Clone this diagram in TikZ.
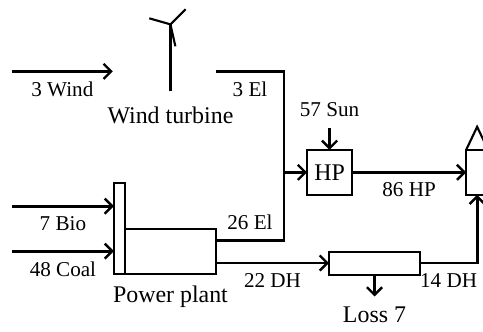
\documentclass[tikz,border=0pt]{standalone}
\usepackage{fontspec}
\setmainfont{Liberation Serif}
\usetikzlibrary{arrows.meta,positioning}
\tikzset{
  box/.style={draw=black, line width=1.5pt, outer sep=0pt, inner sep=0pt, align=center, font=\fontsize{18}{20}\selectfont},
  hpbox/.style={box, minimum width=1.19cm, minimum height=1.19cm},
  flow/.style={-{Straight Barb[length=2mm,width=4mm,line width=1.8pt]}, line width=2.2pt, draw=black},
  plainflow/.style={line width=2.2pt, draw=black, line join=miter},
  blade/.style={line width=1.6pt, draw=black},
  flowlabel/.style={inner sep=0pt, font=\fontsize{15.9}{18}\selectfont},
  biglabel/.style={inner sep=0pt, font=\fontsize{18}{20}\selectfont}
}
\begin{document}
\begin{tikzpicture}
        \useasboundingbox (0,0) rectangle (12.78,8.76);
        \clip (0,0) rectangle (12.78,8.76);
        \node[box, minimum width=2.41cm, minimum height=1.19cm] (plant) at (4.51,2.10) {};
        \node[box, anchor=south east, minimum width=0.29cm, minimum height=2.41cm] (tall) at (plant.south west) {};
        \node[biglabel, below=0.31cm of plant] (plantname) {Power plant};
        \coordinate[left=2.70cm of tall.west, yshift=0.595cm] (bioin);
        \coordinate[left=2.70cm of tall.west, yshift=-0.595cm] (coalin);
        \coordinate (elout) at ([yshift=0.30cm]plant.east);
        \coordinate (dhout) at ([yshift=-0.30cm]plant.east);
        \coordinate[right=1.80cm of elout] (elbot);
        \coordinate[above=4.47cm of elbot] (eltop);
        \coordinate[left=1.80cm of eltop] (turbout);
        \coordinate[left=2.73cm of turbout] (windend);
        \coordinate[left=2.67cm of windend] (windin);
        \coordinate[above=3.65cm of plant.north] (mastbase);
        \coordinate[above=1.77cm of mastbase] (hub);
        \coordinate[above right=0.40cm and 0.40cm of hub] (bladeA);
        \coordinate[above left=0.16cm and 0.56cm of hub] (bladeB);
        \coordinate[below right=0.58cm and 0.13cm of hub] (bladeC);
        \node[biglabel, below=0.42cm of mastbase] (turbname) {Wind turbine};
        \coordinate[below=2.67cm of eltop] (eljoin);
        \node[hpbox, right=0.61cm of eljoin] (hp) {HP};
        \coordinate[above=0.58cm of hp.north] (sunin);
        \node[flowlabel, above=0.30cm of sunin] (sunname) {57 Sun};
        \node[hpbox, right=3.02cm of hp] (house) {};
        \coordinate[above right=0.61cm and 0.29cm of house.north west] (apex);
        \coordinate[right=0.58cm of house.north west] (roofend);
        \coordinate[right=0.29cm of house.south west] (housein);
        \node[box, right=2.99cm of dhout, minimum width=2.41cm, minimum height=0.61cm] (loss) {};
        \coordinate[below=0.58cm of loss.south] (lossout);
        \node[biglabel, below=0.27cm of lossout] (lossname) {Loss 7};
        \draw[flow] (windin) -- node[flowlabel, below=0.24cm] {3 Wind} (windend);
        \draw[flow] (bioin) -- node[flowlabel, below=0.24cm] {7 Bio} (tall.west |- bioin);
        \draw[flow] (coalin) -- node[flowlabel, below=0.24cm] {48 Coal} (tall.west |- coalin);
        \draw[plainflow] (elout) -- node[flowlabel, above=0.23cm] {26 El} (elbot) -- (eltop) -- node[flowlabel, below=0.24cm] {3 El} (turbout);
        \draw[flow] (eljoin) -- (hp);
        \draw[flow] (sunin) -- (hp);
        \draw[flow] (hp) -- node[flowlabel, below=0.24cm] {86 HP} (house);
        \draw[flow] (dhout) -- node[flowlabel, below=0.24cm] {22 DH} (loss);
        \draw[flow] (loss) -- (lossout);
        \draw[flow] (loss) -- node[flowlabel, below=0.24cm] {14 DH} (loss -| housein) -- (housein);
        \draw[plainflow] (mastbase) -- (hub);
        \draw[blade] (bladeA) -- (hub) -- (bladeB);
        \draw[blade] (hub) -- (bladeC);
        \draw[blade] (house.north west) -- (apex) -- (roofend);
      \end{tikzpicture}
\end{document}
